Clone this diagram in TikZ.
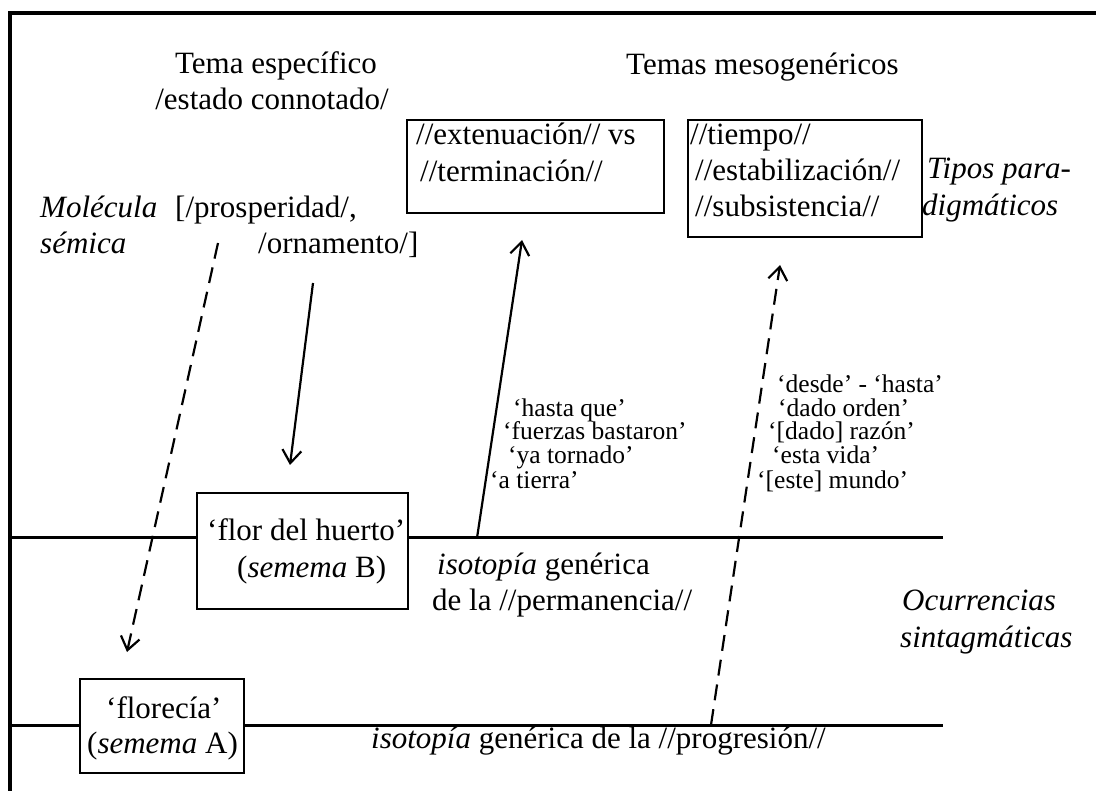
\documentclass[tikz,border=0pt]{standalone}
\usepackage{fontspec}
\setmainfont{Liberation Serif}
\usetikzlibrary{arrows.meta}
\begin{document}
\begin{tikzpicture}[x=1pt,y=-1pt,
  big/.style={font=\fontsize{31}{37}\selectfont, inner sep=0pt, anchor=base west},
  bigc/.style={big, anchor=base},
  small/.style={font=\fontsize{25.5}{24}\selectfont, inner sep=0pt, anchor=base west},
  boxnode/.style={draw, line width=1.8pt, inner sep=0pt, anchor=north west},
  iso/.style={line width=3pt},
  frameline/.style={line width=3.5pt},
  arr/.style={line width=2.2pt, -{Straight Barb[length=13pt,width=19pt,line width=2.2pt]}},
  darr/.style={arr, dash pattern=on 16pt off 9pt},
]
\useasboundingbox (0,0) rectangle (1096,791);

% frame
\coordinate (fr1) at (1096,13);
\coordinate (fr2) at (10,13);
\coordinate (fr3) at (10,791);
\draw[frameline] (fr1) -- (fr2) -- (fr3);

% boxes
\node[boxnode, minimum width=257pt, minimum height=93pt] (b1) at (406,119) {};
\node[boxnode, minimum width=234pt, minimum height=117pt] (b2) at (687,119) {};
\node[boxnode, minimum width=211pt, minimum height=116pt] (bB) at (196,492) {};
\node[boxnode, minimum width=164pt, minimum height=94pt] (bA) at (79,678) {};

% isotopy lines
\coordinate (lBs) at (10,538);
\coordinate (lBe) at (943,538);
\coordinate (lAs) at (10,725);
\coordinate (lAe) at (943,725);
\draw[iso] (lBs) -- (lBs -| bB.west);
\draw[iso] (lBs -| bB.east) -- (lBe);
\draw[iso] (lAs) -- (lAs -| bA.west);
\draw[iso] (lAs -| bA.east) -- (lAe);

% headings
\node[bigc] (t1) at (276,74) {Tema específico};
\node[bigc] (t2) at (272,110) {/estado connotado/};
\node[big] (t3) at (626,75) {Temas mesogenéricos};

% box texts
\node[big] (e1) at (416,145) {//extenuación// vs};
\node[big] (e2) at (420,182) {//terminación//};
\node[big] (m1) at (690,145) {//tiempo//};
\node[big] (m2) at (695,181) {//estabilización//};
\node[big] (m3) at (695,217) {//subsistencia//};

\node[big] (tp1) at (927,179) {\itshape Tipos para-};
\node[big] (tp2) at (922,216) {\itshape digmáticos};

\node[big] (ms1) at (40,218) {\itshape Molécula};
\node[big] (ms2) at (40,254) {\itshape sémica};
\node[big] (pr1) at (175,218) {[/prosperidad/,};
\node[big] (pr2) at (258,254) {/ornamento/]};

\node[big] (fB1) at (207,540) {‘flor del huerto’};
\node[big] (fB2) at (237,577) {(\textit{semema} B)};
\node[big] (fA1) at (106,718) {‘florecía’};
\node[big] (fA2) at (87,753) {(\textit{semema} A)};

\node[big] (iB1) at (437,575) {\textit{isotopía} genérica};
\node[big] (iB2) at (432,610) {de la //permanencia//};
\node[big] (iA) at (371,748) {\textit{isotopía} genérica de la //progresión//};

\node[big] (oc1) at (902,610) {\itshape Ocurrencias};
\node[big] (oc2) at (900,647) {\itshape sintagmáticas};

% small quotes
\node[small] (q1) at (513,417) {‘hasta que’};
\node[small] (q2) at (503,440) {‘fuerzas bastaron’};
\node[small] (q3) at (508,464) {‘ya tornado’};
\node[small] (q4) at (490,489) {‘a tierra’};

\node[small] (r1) at (777,393) {‘desde’ - ‘hasta’};
\node[small] (r2) at (778,417) {‘dado orden’};
\node[small] (r3) at (768,440) {‘[dado] razón’};
\node[small] (r4) at (772,464) {‘esta vida’};
\node[small] (r5) at (757,489) {‘[este] mundo’};

% arrows
\coordinate (d1s) at (218,243);
\coordinate (d1e) at (127,652);
\coordinate (s1s) at (313,283);
\coordinate (s1e) at (290,465);
\coordinate (s2s) at (477,538);
\coordinate (s2e) at (522,240);
\coordinate (d2s) at (711,725);
\coordinate (d2e) at (780,265);
\draw[darr] (d1s) -- (d1e);
\draw[arr] (s1s) -- (s1e);
\draw[arr] (s2s) -- (s2e);
\draw[darr] (d2s) -- (d2e);
\end{tikzpicture}
\end{document}
